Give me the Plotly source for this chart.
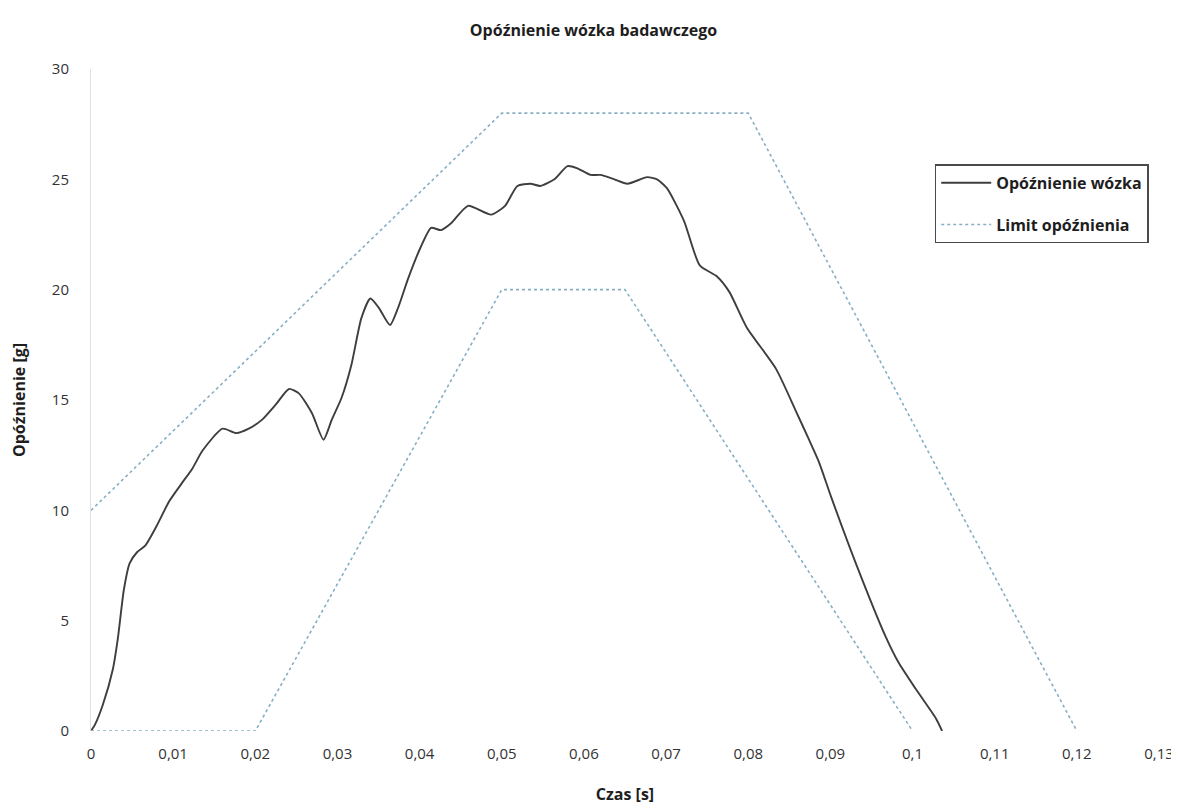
import plotly.graph_objects as go

# --- data ---
czas = [0.0, 0.0005, 0.00145, 0.00266, 0.00327, 0.0040, 0.0047, 0.0056, 0.0066, 0.0080,
        0.0095, 0.0110, 0.01235, 0.01356, 0.0160, 0.0177, 0.0192, 0.0208, 0.0225, 0.0241,
        0.0253, 0.0269, 0.0283, 0.0293, 0.0305, 0.0317, 0.0329, 0.0340, 0.0350, 0.0364,
        0.0374, 0.0386, 0.0401, 0.0414, 0.0426, 0.0438, 0.0459, 0.0487, 0.0504, 0.0519,
        0.0535, 0.0547, 0.0564, 0.0580, 0.0592, 0.0608, 0.0620, 0.0637, 0.0653, 0.0677,
        0.0689, 0.0701, 0.0722, 0.0741, 0.0762, 0.0777, 0.0798, 0.0834, 0.0858, 0.0874,
        0.0886, 0.0901, 0.0931, 0.0967, 0.0983, 0.1004, 0.1028, 0.1036]
opoznienie = [0.0, 0.3, 1.2, 2.8, 4.2, 6.4, 7.6, 8.1, 8.4, 9.3,
              10.4, 11.2, 11.9, 12.7, 13.7, 13.5, 13.7, 14.1, 14.8, 15.5,
              15.3, 14.4, 13.2, 14.1, 15.1, 16.6, 18.7, 19.6, 19.2, 18.4,
              19.2, 20.5, 21.9, 22.8, 22.7, 23.0, 23.8, 23.4, 23.8, 24.7,
              24.8, 24.7, 25.0, 25.6, 25.5, 25.2, 25.2, 25.0, 24.8, 25.1,
              25.0, 24.6, 23.1, 21.1, 20.6, 19.9, 18.3, 16.4, 14.5, 13.2,
              12.2, 10.6, 7.6, 4.3, 3.1, 1.9, 0.6, 0.0]

limit_gorny_t = [0.0, 0.05, 0.08, 0.12]
limit_gorny_g = [10, 28, 28, 0]
limit_dolny_t = [0.0, 0.02, 0.05, 0.065, 0.10]
limit_dolny_g = [0, 0, 20, 20, 0]

x_ticks = [0, 0.01, 0.02, 0.03, 0.04, 0.05, 0.06, 0.07, 0.08, 0.09, 0.10, 0.11, 0.12, 0.13]
x_tick_labels = ["0", "0,01", "0,02", "0,03", "0,04", "0,05", "0,06", "0,07", "0,08",
                 "0,09", "0,1", "0,11", "0,12", "0,13"]
y_ticks = [0, 5, 10, 15, 20, 25, 30]

# --- figure ---
FONT = "Open Sans, Lato, sans-serif"
limit_color = "#86aec4"

fig = go.Figure()
fig.add_trace(go.Scatter(
    x=czas, y=opoznienie, mode="lines", name="<b>Opóźnienie wózka</b>",
    legendgroup="dane",
    line=dict(color="#3e3e3e", width=1.9, shape="spline", smoothing=0.6),
))
fig.add_trace(go.Scatter(
    x=limit_gorny_t, y=limit_gorny_g, mode="lines", name="<b>Limit opóźnienia</b>",
    legendgroup="limit", line=dict(color=limit_color, width=1.6, dash="dot"),
))
fig.add_trace(go.Scatter(
    x=limit_dolny_t, y=limit_dolny_g, mode="lines", name="Limit opóźnienia",
    legendgroup="limit", showlegend=False,
    line=dict(color=limit_color, width=1.6, dash="dot"),
))

fig.update_layout(
    width=1171, height=801,
    paper_bgcolor="white", plot_bgcolor="white",
    margin=dict(l=83, r=20, t=61, b=78, autoexpand=False),
    font=dict(family=FONT, color="#404040", size=15),
    title=dict(text="<b>Opóźnienie wózka badawczego</b>", x=0.5, xanchor="center",
               y=0.972, yanchor="middle", font=dict(size=16, color="#1e1e1e", family=FONT)),
    legend=dict(x=0.790, y=0.856, xanchor="left", yanchor="top",
                bgcolor="white", bordercolor="#4a4a4a", borderwidth=1.5,
                font=dict(size=16, color="#1e1e1e", family=FONT),
                traceorder="grouped", itemwidth=50, tracegroupgap=18),
    showlegend=True,
)
fig.update_xaxes(
    range=[0, 0.13], tickvals=x_ticks, ticktext=x_tick_labels,
    showgrid=False, zeroline=False, showline=False, automargin=False,
    ticks="", ticklabelstandoff=12, ticklabeloverflow="allow",
    tickfont=dict(size=15, color="#333333"),
    title=dict(text="<b>Czas [s]</b>", font=dict(size=16, color="#1e1e1e"), standoff=26),
)
fig.update_yaxes(
    range=[0, 30], tickvals=y_ticks, automargin=False,
    showgrid=False, zeroline=False, showline=True, linecolor="#e0e0e0", linewidth=1,
    ticks="", ticklabelstandoff=18,
    tickfont=dict(size=15, color="#333333"),
    title=dict(text="<b>Opóźnienie [g]</b>", font=dict(size=16, color="#1e1e1e"), standoff=22),
)

fig.write_html("out.html")
